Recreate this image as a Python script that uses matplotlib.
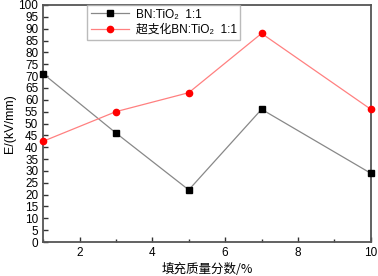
import matplotlib
matplotlib.use("Agg")
import matplotlib.pyplot as plt
from matplotlib.ticker import MultipleLocator

x_vals = [1, 3, 5, 7, 10]
bn_tio2 = [71, 46, 22, 56, 29]
hb_bn_tio2 = [42.5, 55, 63, 88, 56]
label_bn = "BN:TiO\u2082  1:1"
label_hb = "超支化BN:TiO\u2082  1:1"
xlabel = "填充质量分数/%"
ylabel = "E/(kV/mm)"

plt.rcParams['font.family'] = ['Liberation Sans', 'Noto Sans CJK SC', 'DejaVu Sans']

fig = plt.figure(figsize=(3.78, 2.76), dpi=100)
ax = fig.add_axes([0.114, 0.123, 0.867, 0.859])

ax.plot(x_vals, bn_tio2, color='#888888', lw=0.9, marker='s', ms=4.5,
        mfc='black', mec='black', label=label_bn, clip_on=False, zorder=3)
ax.plot(x_vals, hb_bn_tio2, color='#ff8080', lw=0.9, marker='o', ms=4.5,
        mfc='red', mec='red', label=label_hb, clip_on=False, zorder=3)

ax.set_xlim(1, 10)
ax.set_ylim(0, 100)
ax.xaxis.set_major_locator(MultipleLocator(2))
ax.xaxis.set_minor_locator(MultipleLocator(1))
ax.yaxis.set_major_locator(MultipleLocator(5))
ax.tick_params(axis='both', which='both', direction='in', labelsize=8.5, colors='#333333')
ax.tick_params(axis='both', labelcolor='black')
ax.tick_params(which='major', length=3.5, width=1)
ax.tick_params(which='minor', length=2, width=1)
ax.set_xticks([2, 4, 6, 8, 10])
for s in ax.spines.values():
    s.set_color('#555555')
    s.set_linewidth(1.3)

ax.set_xlabel(xlabel, fontsize=9, family=['Noto Sans CJK SC', 'DejaVu Sans'], labelpad=3)
ax.set_ylabel(ylabel, fontsize=9, labelpad=2)

leg = ax.legend(loc='upper left', bbox_to_anchor=(0.135, 1.0),
                frameon=True, fancybox=False, borderaxespad=0, handlelength=3.2,
                prop={'family': ['Liberation Sans', 'Noto Sans CJK SC', 'DejaVu Sans'], 'size': 8.5},
                borderpad=0.3, labelspacing=0.3, handletextpad=0.6)
leg.get_frame().set_edgecolor('#aaaaaa')
leg.get_frame().set_linewidth(1.0)

fig.savefig("out.png", dpi=100)
